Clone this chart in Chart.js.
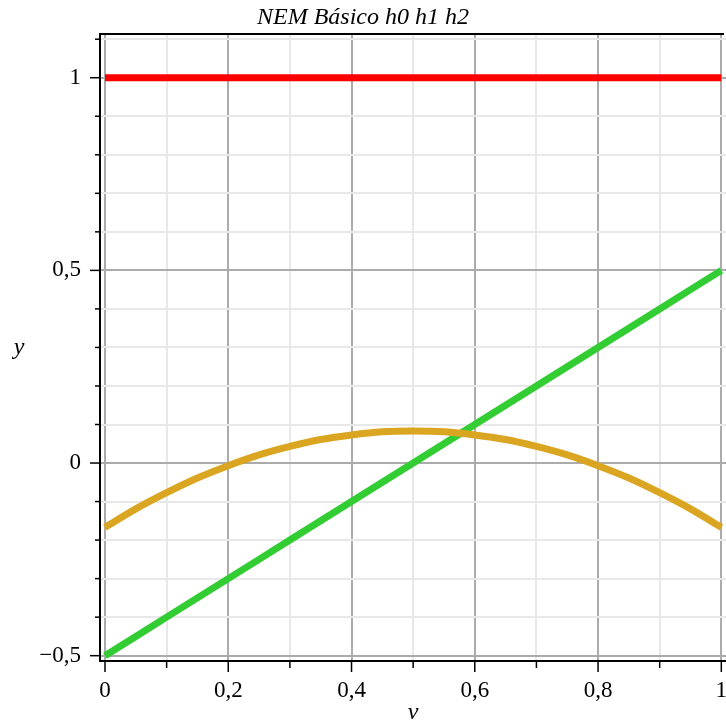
<!DOCTYPE html>
<html>
<head>
<meta charset="utf-8">
<title>NEM Básico h0 h1 h2</title>
<script src="https://cdn.jsdelivr.net/npm/chart.js@4.4.1/dist/chart.umd.min.js"></script>
<style>
  html, body { margin: 0; padding: 0; background: #fff; }
  #wrap { width: 726px; height: 725px; }
</style>
</head>
<body>
<div id="wrap"><canvas id="chart" width="726" height="725"></canvas></div>
<script>
// values
const vValues = [0, 0.05, 0.1, 0.15, 0.2, 0.25, 0.3, 0.35, 0.4, 0.45, 0.5,
                 0.55, 0.6, 0.65, 0.7, 0.75, 0.8, 0.85, 0.9, 0.95, 1];
const h0 = [1, 1, 1, 1, 1, 1, 1, 1, 1, 1, 1, 1, 1, 1, 1, 1, 1, 1, 1, 1, 1];
const h1 = [-0.5, -0.45, -0.4, -0.35, -0.3, -0.25, -0.2, -0.15, -0.1, -0.05, 0,
            0.05, 0.1, 0.15, 0.2, 0.25, 0.3, 0.35, 0.4, 0.45, 0.5];
const h2 = [-0.167, -0.119, -0.077, -0.039, -0.007, 0.021, 0.043, 0.061, 0.073, 0.081, 0.083,
            0.081, 0.073, 0.061, 0.043, 0.021, -0.007, -0.039, -0.077, -0.119, -0.167];

const xTicks = [0, 0.1, 0.2, 0.3, 0.4, 0.5, 0.6, 0.7, 0.8, 0.9, 1];
const xTickLabels = ['0', '', '0,2', '', '0,4', '', '0,6', '', '0,8', '', '1'];
const yTicks = [-0.5, -0.4, -0.3, -0.2, -0.1, 0, 0.1, 0.2, 0.3, 0.4, 0.5,
                0.6, 0.7, 0.8, 0.9, 1, 1.1];
const yTickLabels = ['\u22120,5', '', '', '', '', '0', '', '', '', '', '0,5',
                     '', '', '', '', '1', ''];

const serif = "'Liberation Serif', 'Times New Roman', serif";

function pts(ys) {
  return vValues.map((v, i) => ({ x: v, y: ys[i] }));
}

const isMajorX = v => Math.round(v * 10) % 2 === 0;
const isMajorY = v => Math.round(v * 10) % 5 === 0;

// tick marks outside the frame, top frame line, axis names
const axisDecor = {
  id: 'axisDecor',
  afterDraw(chart) {
    const { ctx, chartArea, scales } = chart;
    ctx.save();
    ctx.strokeStyle = '#000';
    ctx.lineWidth = 2;
    ctx.beginPath();
    ctx.moveTo(chartArea.left - 1, chartArea.top);
    ctx.lineTo(chartArea.right - 2, chartArea.top);
    ctx.stroke();

    ctx.lineWidth = 1.5;
    scales.y.ticks.forEach(t => {
      const y = scales.y.getPixelForValue(t.value);
      const len = isMajorY(t.value) ? 10 : 5;
      ctx.beginPath();
      ctx.moveTo(chartArea.left - len, y);
      ctx.lineTo(chartArea.left, y);
      ctx.stroke();
    });
    scales.x.ticks.forEach(t => {
      const x = scales.x.getPixelForValue(t.value);
      const len = isMajorX(t.value) ? 11 : 7;
      ctx.beginPath();
      ctx.moveTo(x, chartArea.bottom);
      ctx.lineTo(x, chartArea.bottom + len);
      ctx.stroke();
    });

    ctx.fillStyle = '#000';
    ctx.font = 'italic 24px ' + serif;
    ctx.textAlign = 'center';
    ctx.textBaseline = 'alphabetic';
    ctx.fillText('y', 19, 354);
    ctx.fillText('v', scales.x.getPixelForValue(0.5), 719);
    ctx.restore();
  }
};

const ctx = document.getElementById('chart').getContext('2d');
const chart = new Chart(ctx, {
  type: 'line',
  data: {
    datasets: [
      { label: 'h0', data: pts(h0), borderColor: '#ff0000', order: 2 },
      { label: 'h1', data: pts(h1), borderColor: '#32cd32', order: 1 },
      { label: 'h2', data: pts(h2), borderColor: '#daa520', order: 0, tension: 0.3 }
    ]
  },
  options: {
    responsive: false,
    animation: false,
    layout: { padding: 0 },
    elements: {
      point: { radius: 0 },
      line: { borderWidth: 7, borderCapStyle: 'butt', fill: false }
    },
    plugins: {
      legend: { display: false },
      tooltip: { enabled: false },
      title: {
        display: true,
        text: 'NEM Básico h0 h1 h2',
        color: '#000',
        font: { family: serif, size: 24, style: 'italic', weight: 'normal' },
        padding: { top: 3, bottom: 2.2 }
      }
    },
    scales: {
      x: {
        type: 'linear',
        min: -0.0081,
        max: 1.0076,
        afterBuildTicks: s => { s.ticks = xTicks.map(v => ({ value: v })); },
        afterFit: s => { s.height = 64; s.paddingLeft = 0; s.paddingRight = 0; },
        ticks: {
          autoSkip: false,
          maxRotation: 0,
          padding: 16,
          color: '#000',
          font: { family: serif, size: 23 },
          callback: (v, i) => xTickLabels[i]
        },
        grid: {
          drawTicks: false,
          lineWidth: 2,
          color: c => (c.tick && isMajorX(c.tick.value)) ? '#ababab' : '#e8e8e8'
        },
        border: { display: true, color: '#000', width: 2 }
      },
      y: {
        type: 'linear',
        min: -0.5138,
        max: 1.1135,
        afterBuildTicks: s => { s.ticks = yTicks.map(v => ({ value: v })); },
        afterFit: s => { s.width = 100; s.paddingTop = 0; s.paddingBottom = 0; },
        ticks: {
          autoSkip: false,
          padding: 19,
          color: '#000',
          font: { family: serif, size: 23 },
          callback: (v, i) => yTickLabels[i]
        },
        grid: {
          drawTicks: false,
          lineWidth: 2,
          color: c => (c.tick && isMajorY(c.tick.value)) ? '#ababab' : '#e8e8e8'
        },
        border: { display: true, color: '#000', width: 2 }
      }
    }
  },
  plugins: [axisDecor]
});
</script>
</body>
</html>
